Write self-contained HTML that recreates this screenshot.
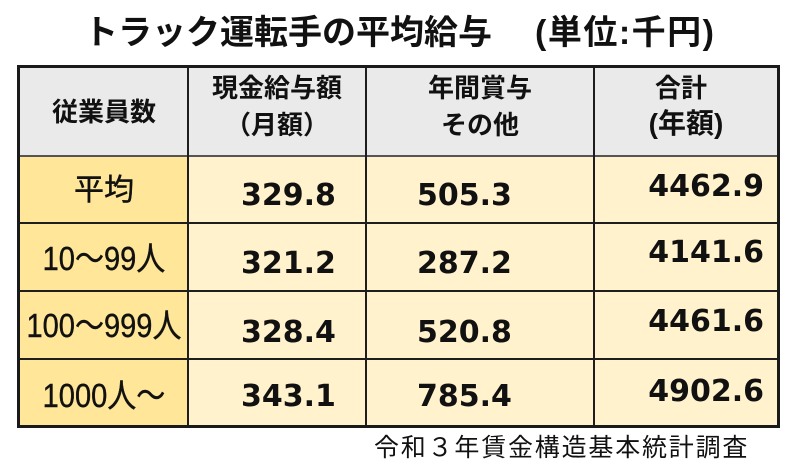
<!DOCTYPE html>
<html>
<head>
<meta charset="utf-8">
<style>
  html,body{margin:0;padding:0;background:#fff;}
  body{width:800px;height:472px;position:relative;overflow:hidden;
       font-family:"Liberation Sans","Noto Sans CJK JP",sans-serif;color:#111;}
  .a{position:absolute;white-space:nowrap;}
  .c{text-align:center;width:300px;}
  .hd{font-weight:bold;font-size:26px;line-height:34px;}
  .lab{font-size:30px;line-height:36px;-webkit-text-stroke:0.4px #111;}
  .lab2{font-size:33px;line-height:38px;transform:scaleX(0.88);-webkit-text-stroke:0.4px #111;}
  .num{font-family:"DejaVu Sans",sans-serif;font-weight:bold;font-size:30px;line-height:36px;}
  .fill{position:absolute;}
  .ln{position:absolute;background:#1e1e1e;}
</style>
</head>
<body>
<!-- title -->
<div class="a" style="left:84px;top:13px;font-size:34px;line-height:40px;font-weight:bold;">トラック運転手の平均給与</div>
<div class="a" style="left:535px;top:13px;font-size:34px;line-height:40px;font-weight:bold;letter-spacing:1.5px;">(単位:千円)</div>

<!-- fills -->
<div class="fill" style="left:20px;top:68px;width:757px;height:88px;background:#eaeaea;"></div>
<div class="fill" style="left:20px;top:156px;width:168px;height:270px;background:#ffe699;"></div>
<div class="fill" style="left:188px;top:156px;width:589px;height:270px;background:#fff2cc;"></div>

<!-- grid lines -->
<div class="ln" style="left:20px;top:155px;width:757px;height:2px;background:#555;"></div>
<div class="ln" style="left:20px;top:222px;width:757px;height:2px;"></div>
<div class="ln" style="left:20px;top:290px;width:757px;height:2px;"></div>
<div class="ln" style="left:20px;top:358px;width:757px;height:2px;"></div>
<div class="ln" style="left:187px;top:68px;width:2px;height:358px;"></div>
<div class="ln" style="left:365px;top:68px;width:2px;height:358px;"></div>
<div class="ln" style="left:593px;top:68px;width:2px;height:358px;"></div>
<!-- outer border -->
<div class="a" style="left:17px;top:65px;width:763px;height:363px;border:3px solid #1a1a1a;box-sizing:border-box;"></div>

<!-- header -->
<div class="a c hd" style="left:-46px;top:95px;">従業員数</div>
<div class="a c hd" style="left:127px;top:71px;">現金給与額</div>
<div class="a c hd" style="left:127px;top:108px;">（月額）</div>
<div class="a c hd" style="left:330px;top:71px;">年間賞与</div>
<div class="a c hd" style="left:330px;top:108px;">その他</div>
<div class="a c hd" style="left:531px;top:71px;">合計</div>
<div class="a c hd" style="left:536px;top:107px;font-size:28px;">(年額)</div>

<!-- row labels -->
<div class="a c lab" style="left:-46px;top:173px;">平均</div>
<div class="a c lab2" style="left:-46px;top:240px;">10～99人</div>
<div class="a c lab2" style="left:-46px;top:307px;">100～999人</div>
<div class="a c lab2" style="left:-46px;top:377px;">1000人～</div>

<!-- column 2 -->
<div class="a num" style="left:241px;top:178px;">329.8</div>
<div class="a num" style="left:241px;top:246px;">321.2</div>
<div class="a num" style="left:241px;top:315px;">328.4</div>
<div class="a num" style="left:241px;top:379px;">343.1</div>

<!-- column 3 -->
<div class="a num" style="left:417px;top:178px;">505.3</div>
<div class="a num" style="left:417px;top:246px;">287.2</div>
<div class="a num" style="left:417px;top:315px;">520.8</div>
<div class="a num" style="left:417px;top:379px;">785.4</div>

<!-- column 4 -->
<div class="a num" style="right:36px;top:169px;text-align:right;">4462.9</div>
<div class="a num" style="right:36px;top:235px;text-align:right;">4141.6</div>
<div class="a num" style="right:36px;top:304px;text-align:right;">4461.6</div>
<div class="a num" style="right:36px;top:374px;text-align:right;">4902.6</div>

<!-- footer -->
<div class="a" style="left:374px;top:431px;font-size:25px;line-height:34px;letter-spacing:1.8px;">令和３年賃金構造基本統計調査</div>
</body>
</html>
